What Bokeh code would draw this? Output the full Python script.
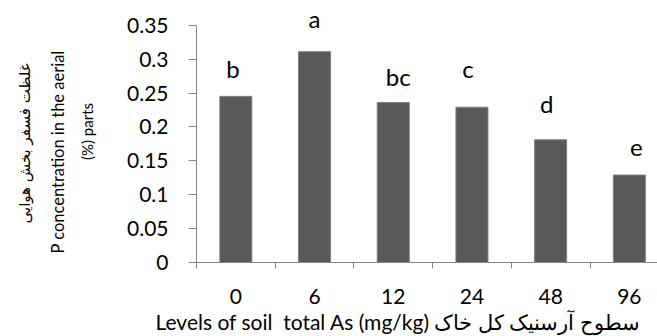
import math
from bokeh.plotting import figure
from bokeh.models import Range1d, FixedTicker, Title, ColumnDataSource
from bokeh.core.properties import value
from bokeh.embed import file_html
from bokeh.resources import INLINE

# ---- data ----
categories = ["0", "6", "12", "24", "48", "96"]
p_conc = [0.245, 0.311, 0.236, 0.229, 0.181, 0.129]
letters = ["b", "a", "bc", "c", "d", "e"]
y_ticks = [0, 0.05, 0.1, 0.15, 0.2, 0.25, 0.3, 0.35]
y_tick_labels = ["0", "0.05", "0.1", "0.15", "0.2", "0.25", "0.3", "0.35"]

x_title = "Levels of soil\u00a0 total As (mg/kg) سطوح آرسنیک کل خاک"
y_title_fa = "غلظت فسفر بخش هوایی"
y_title_en1 = "P concentration in the aerial"
y_title_en2 = "(%) parts"

# ---- layout ----
W, H = 657, 336
left, bottom = 196, 74
cat_px = 78.7
frame_w = W - left
frame_h = H - bottom
y_top_px = 24.7  # pixel row of 0.35
y_end = 0.35 * frame_h / (frame_h - y_top_px)
xs = [i + 0.5 for i in range(len(categories))]
# small manual nudges of the significance letters (pixels)
lx_off = [-3, 0, 5, -4, -4, 7]
ly_off = [-28, -33, -26, -39, -36, -28]

FONT = "Lato"
AX = "#868686"

p = figure(width=W, height=H, output_backend="svg", toolbar_location=None,
           x_range=Range1d(0, frame_w / cat_px), y_range=Range1d(0, y_end),
           min_border_left=left, min_border_right=0, min_border_top=0,
           min_border_bottom=bottom)
p.outline_line_color = None
p.xgrid.visible = False
p.ygrid.visible = False
p.background_fill_color = "white"
p.border_fill_color = "white"

src = ColumnDataSource(dict(x=xs, top=p_conc, lab=letters, xo=lx_off, yo=ly_off))
p.vbar(x="x", top="top", width=32 / cat_px, bottom=0, source=src,
       fill_color="#595959", line_color="#7f7f7f", line_width=1)
p.text(x="x", y="top", text="lab", source=src, x_offset="xo", y_offset="yo",
       text_align="center", text_baseline="middle", text_font=value(FONT),
       text_font_size="24px", text_color="#000000")

# x axis
xa = p.xaxis[0]
xa.ticker = FixedTicker(ticks=xs, minor_ticks=list(range(len(categories) + 1)))
xa.major_label_overrides = {x: c for x, c in zip(xs, categories)}
xa.major_tick_out = 0
xa.major_tick_in = 0
xa.minor_tick_out = 6
xa.minor_tick_in = 0
xa.minor_tick_line_color = AX
xa.axis_line_color = AX
xa.major_label_standoff = 20
xa.major_label_text_font = FONT
xa.major_label_text_font_size = "21px"
xa.major_label_text_color = "#000000"

# y axis
ya = p.yaxis[0]
ya.bounds = (0, 0.35)
ya.ticker = FixedTicker(ticks=y_ticks, minor_ticks=[])
ya.major_label_overrides = {t: s for t, s in zip(y_ticks, y_tick_labels)}
ya.major_tick_out = 8
ya.major_tick_in = 0
ya.major_tick_line_color = AX
ya.axis_line_color = AX
ya.major_label_standoff = 20
ya.major_label_text_font = FONT
ya.major_label_text_font_size = "21px"
ya.major_label_text_color = "#000000"
ya.axis_label = y_title_en2
ya.axis_label_standoff = 28
ya.axis_label_text_font = FONT
ya.axis_label_text_font_size = "15px"
ya.axis_label_text_font_style = "normal"
ya.axis_label_text_color = "#000000"

# titles
p.add_layout(Title(text=x_title, align="left", offset=-41, standoff=1,
                   text_font=FONT, text_font_size="21px", text_font_style="normal",
                   text_color="#000000"), "below")
for txt, so, fnt, fs, off in [(y_title_en1, 16, FONT, "16.5px", 9),
                              (y_title_fa, 8, "DejaVu Sans", "15px", 39)]:
    p.add_layout(Title(text=txt, align="left", offset=off, standoff=so,
                       text_font=fnt, text_font_size=fs, text_font_style="normal",
                       text_color="#000000"), "left")

open("out.html", "w").write(file_html(p, INLINE))
